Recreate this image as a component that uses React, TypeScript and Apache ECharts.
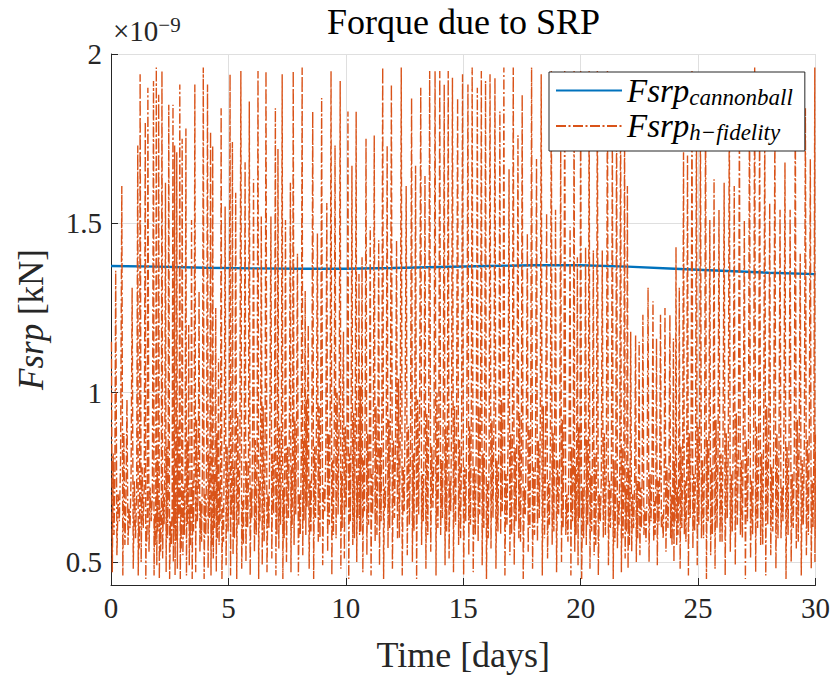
import React, { useEffect, useRef } from "react";
import * as echarts from "echarts";

// ---- x axis ticks / y axis ticks ----
const xTicks = [0, 5, 10, 15, 20, 25, 30];
const yTicks = [0.5, 1, 1.5, 2];

// ---- cannonball model (×1e-9 kN) ----
const blueDays = [0, 2, 4, 6, 8, 10, 12, 14, 16, 18, 20, 22, 24, 26, 28, 30];
const blueVals = [1.374, 1.372, 1.369, 1.367, 1.366, 1.366, 1.368, 1.371, 1.374, 1.376, 1.376, 1.372, 1.366, 1.36, 1.354, 1.35];

// ---- high-fidelity model: spike peaks (day, value) ----
const peakDaysA = [0.02, 0.2, 0.46, 0.68, 0.9, 1.14, 1.24, 1.46, 1.57, 1.81, 1.93, 2.03, 2.17, 2.32, 2.46, 2.64, 2.71, 2.8, 2.93, 3.03, 3.19, 3.31, 3.43, 3.57, 3.75, 3.93, 4.11, 4.24, 4.33, 4.46, 4.58, 4.69, 4.86, 5.07, 5.17, 5.31, 5.53, 5.71, 5.89, 6.07, 6.26, 6.4, 6.6, 6.81, 7.0, 7.11, 7.29, 7.43];
const peakValsA = [1.15, 1.36, 1.61, 0.98, 1.31, 1.73, 1.94, 1.8, 1.9, 1.92, 1.96, 1.88, 1.95, 1.62, 1.85, 1.85, 1.73, 1.71, 1.91, 1.75, 1.78, 1.2, 1.51, 1.91, 1.3, 1.96, 1.91, 1.77, 1.73, 1.25, 1.1, 1.84, 1.55, 1.94, 1.74, 1.59, 1.95, 1.68, 1.86, 1.63, 1.95, 1.52, 1.95, 1.52, 1.84, 1.72, 1.94, 1.51];
const peakDaysB = [7.64, 7.76, 7.94, 8.14, 8.27, 8.4, 8.59, 8.79, 8.97, 9.19, 9.37, 9.54, 9.76, 9.9, 10.09, 10.26, 10.44, 10.56, 10.69, 10.86, 11.04, 11.21, 11.4, 11.57, 11.76, 11.94, 12.16, 12.36, 12.57, 12.8, 12.97, 13.19, 13.37, 13.57, 13.8, 14.0, 14.19, 14.36, 14.54, 14.76, 14.97];
const peakValsB = [1.62, 1.95, 1.41, 1.96, 1.3, 1.2, 1.83, 1.47, 1.87, 1.56, 1.95, 1.73, 1.92, 1.18, 1.83, 1.67, 1.83, 1.35, 1.4, 1.75, 1.49, 1.76, 1.45, 1.96, 1.73, 1.91, 1.45, 1.96, 1.61, 1.87, 1.67, 1.9, 1.64, 1.95, 1.95, 1.95, 1.91, 1.95, 1.93, 1.87, 1.94];
const peakDaysC = [15.2, 15.38, 15.6, 15.77, 15.95, 16.14, 16.35, 16.56, 16.73, 16.95, 17.13, 17.33, 17.51, 17.73, 17.91, 18.12, 18.32, 18.55, 18.75, 18.93, 19.15, 19.32, 19.55, 19.72, 19.86, 20.0, 20.21, 20.36, 20.54, 20.71, 20.92, 21.14, 21.35, 21.53, 21.7, 21.87, 21.99, 22.13, 22.34];
const peakValsC = [1.91, 1.96, 1.9, 1.95, 1.92, 1.94, 1.93, 1.83, 1.96, 1.66, 1.96, 1.76, 1.88, 1.47, 1.96, 1.69, 1.94, 1.53, 1.95, 1.54, 1.72, 1.95, 1.49, 1.95, 1.4, 1.95, 1.43, 1.95, 1.42, 1.95, 1.42, 1.95, 1.8, 1.86, 1.88, 1.82, 1.61, 1.18, 1.17];
const peakDaysD = [22.49, 22.65, 22.87, 23.08, 23.23, 23.4, 23.59, 23.8, 23.95, 24.06, 24.2, 24.38, 24.55, 24.74, 24.93, 25.1, 25.32, 25.5, 25.68, 25.89, 26.11, 26.33, 26.54, 26.76, 26.97, 27.19, 27.41, 27.62, 27.84, 28.05, 28.27, 28.49, 28.7, 28.92, 29.14, 29.35, 29.57, 29.78, 29.97];
const peakValsD = [1.15, 1.23, 1.31, 1.27, 1.16, 1.23, 1.25, 1.23, 1.16, 1.43, 1.31, 1.71, 1.7, 1.95, 1.84, 1.8, 1.88, 1.51, 1.63, 1.54, 1.62, 1.86, 1.61, 1.82, 1.51, 1.9, 1.96, 1.85, 1.78, 1.56, 1.8, 1.54, 1.68, 1.54, 1.88, 1.41, 1.84, 1.69, 1.96];

// ---- high-fidelity model: deep troughs after each spike ----
const troughValsA = [0.47, 0.52, 0.46, 0.55, 0.48, 0.46, 0.5, 0.45, 0.53, 0.46, 0.49, 0.45, 0.51, 0.47, 0.45, 0.5, 0.46, 0.48, 0.45, 0.52, 0.46, 0.49, 0.45, 0.47, 0.53, 0.45, 0.48, 0.46, 0.51, 0.47, 0.55, 0.45, 0.49, 0.46, 0.52, 0.45, 0.48, 0.5, 0.46, 0.53, 0.45, 0.49, 0.47, 0.51, 0.46, 0.54, 0.45, 0.5];
const troughValsB = [0.47, 0.55, 0.46, 0.52, 0.58, 0.48, 0.45, 0.56, 0.49, 0.53, 0.46, 0.57, 0.48, 0.51, 0.45, 0.55, 0.5, 0.58, 0.47, 0.52, 0.46, 0.56, 0.49, 0.45, 0.54, 0.48, 0.57, 0.46, 0.52, 0.5, 0.45, 0.55, 0.48, 0.53, 0.46, 0.58, 0.49, 0.51, 0.47, 0.55, 0.46];
const troughValsC = [0.52, 0.47, 0.56, 0.49, 0.45, 0.54, 0.48, 0.58, 0.46, 0.52, 0.49, 0.57, 0.45, 0.53, 0.48, 0.56, 0.46, 0.51, 0.55, 0.47, 0.5, 0.58, 0.46, 0.53, 0.49, 0.45, 0.55, 0.48, 0.52, 0.46, 0.57, 0.49, 0.45, 0.54, 0.47, 0.51, 0.48, 0.53, 0.5];
const troughValsD = [0.52, 0.58, 0.5, 0.56, 0.49, 0.6, 0.53, 0.57, 0.5, 0.55, 0.48, 0.58, 0.46, 0.54, 0.49, 0.57, 0.45, 0.52, 0.48, 0.56, 0.46, 0.53, 0.49, 0.58, 0.45, 0.51, 0.47, 0.55, 0.46, 0.52, 0.48, 0.57, 0.45, 0.5, 0.54, 0.46, 0.52, 0.48, 0.5];

// ---- high-fidelity model: dense low band between spikes ----
const bandValsA = [0.82, 0.7, 0.88, 0.66, 0.74, 0.62, 0.78, 0.6, 0.72, 0.64, 0.8, 0.66, 0.7, 0.84, 0.62, 0.76, 0.68, 0.9, 0.64, 0.72, 0.86, 0.66, 0.74, 0.92, 0.68, 0.7, 0.82, 0.64, 0.76, 0.88, 0.72, 0.66, 0.84, 0.7, 0.78, 0.94, 0.68, 0.8, 0.72, 0.86, 0.74, 0.96, 0.7, 0.82, 0.76, 0.9, 0.72, 0.84];
const bandValsB = [0.78, 0.92, 0.7, 0.86, 0.98, 0.74, 0.84, 0.96, 0.72, 0.88, 0.8, 1.0, 0.76, 0.9, 0.82, 0.94, 0.74, 1.02, 0.8, 0.88, 0.76, 0.96, 0.84, 0.72, 0.92, 0.86, 1.04, 0.78, 0.9, 0.82, 0.98, 0.76, 0.94, 0.84, 1.0, 0.8, 0.9, 0.74, 0.96, 0.86, 0.78];
const bandValsC = [0.9, 0.78, 0.96, 0.82, 0.74, 0.92, 0.8, 0.98, 0.76, 0.88, 0.84, 0.94, 0.72, 0.9, 0.78, 0.86, 0.96, 0.74, 0.88, 0.8, 0.92, 0.7, 0.84, 0.78, 0.9, 0.72, 0.86, 0.76, 0.82, 0.7, 0.88, 0.74, 0.8, 0.68, 0.84, 0.72, 0.78, 0.7, 0.74];
const bandValsD = [0.72, 0.66, 0.76, 0.68, 0.74, 0.64, 0.78, 0.7, 0.8, 0.72, 0.84, 0.74, 0.88, 0.76, 0.9, 0.8, 0.86, 0.78, 0.92, 0.82, 0.88, 0.76, 0.94, 0.8, 0.86, 0.74, 0.9, 0.82, 0.96, 0.78, 0.88, 0.72, 0.84, 0.76, 0.92, 0.8, 0.86, 0.74, 0.82];

// ---- high-fidelity model: second (shallow) trough and band value in each cycle ----
const trough2ValsA = [0.58, 0.62, 0.55, 0.6, 0.57, 0.54, 0.6, 0.56, 0.62, 0.55, 0.59, 0.53, 0.61, 0.57, 0.55, 0.6, 0.56, 0.63, 0.54, 0.58, 0.61, 0.55, 0.59, 0.62, 0.56, 0.58, 0.63, 0.55, 0.6, 0.57, 0.62, 0.56, 0.59, 0.64, 0.57, 0.61, 0.55, 0.6, 0.63, 0.58, 0.62, 0.56, 0.6, 0.64, 0.58, 0.61, 0.57, 0.63];
const band2ValsA = [0.74, 0.8, 0.68, 0.76, 0.7, 0.66, 0.72, 0.64, 0.7, 0.68, 0.74, 0.62, 0.76, 0.7, 0.66, 0.72, 0.78, 0.68, 0.74, 0.8, 0.7, 0.76, 0.82, 0.72, 0.78, 0.84, 0.74, 0.8, 0.86, 0.76, 0.82, 0.88, 0.78, 0.84, 0.9, 0.8, 0.86, 0.76, 0.92, 0.82, 0.88, 0.78, 0.94, 0.84, 0.9, 0.8, 0.86, 0.92];
const trough2ValsB = [0.6, 0.64, 0.58, 0.62, 0.66, 0.59, 0.63, 0.57, 0.65, 0.61, 0.58, 0.64, 0.6, 0.66, 0.62, 0.57, 0.63, 0.59, 0.65, 0.61, 0.64, 0.58, 0.62, 0.66, 0.6, 0.63, 0.57, 0.65, 0.61, 0.59, 0.64, 0.62, 0.58, 0.66, 0.6, 0.63, 0.59, 0.65, 0.61, 0.57, 0.62];
const band2ValsB = [0.86, 0.94, 0.8, 0.9, 0.98, 0.84, 0.92, 1.0, 0.82, 0.96, 0.88, 0.94, 1.02, 0.86, 0.92, 0.98, 0.84, 0.9, 1.0, 0.88, 0.94, 0.82, 0.96, 0.9, 1.04, 0.86, 0.92, 0.98, 0.84, 0.94, 1.0, 0.88, 0.96, 0.82, 0.92, 0.98, 0.86, 0.94, 0.9, 0.84, 0.96];
const trough2ValsC = [0.61, 0.58, 0.64, 0.6, 0.57, 0.63, 0.59, 0.65, 0.61, 0.58, 0.62, 0.56, 0.64, 0.6, 0.58, 0.63, 0.57, 0.61, 0.59, 0.64, 0.6, 0.56, 0.62, 0.58, 0.63, 0.57, 0.61, 0.59, 0.55, 0.62, 0.58, 0.6, 0.56, 0.61, 0.57, 0.59, 0.55, 0.6, 0.57];
const band2ValsC = [0.94, 0.86, 0.9, 0.98, 0.82, 0.92, 0.88, 0.96, 0.84, 0.9, 0.94, 0.8, 0.88, 0.92, 0.84, 0.9, 0.78, 0.86, 0.92, 0.8, 0.88, 0.84, 0.76, 0.86, 0.8, 0.82, 0.76, 0.84, 0.78, 0.74, 0.8, 0.76, 0.72, 0.78, 0.74, 0.76, 0.7, 0.74, 0.72];
const trough2ValsD = [0.6, 0.56, 0.62, 0.58, 0.61, 0.57, 0.6, 0.55, 0.62, 0.58, 0.6, 0.56, 0.63, 0.59, 0.61, 0.57, 0.62, 0.58, 0.6, 0.56, 0.63, 0.59, 0.61, 0.57, 0.62, 0.58, 0.6, 0.55, 0.61, 0.59, 0.57, 0.62, 0.58, 0.6, 0.56, 0.61, 0.58, 0.6, 0.57];
const band2ValsD = [0.74, 0.7, 0.78, 0.72, 0.76, 0.7, 0.74, 0.68, 0.76, 0.72, 0.8, 0.76, 0.84, 0.8, 0.86, 0.82, 0.88, 0.84, 0.8, 0.9, 0.84, 0.88, 0.82, 0.92, 0.86, 0.9, 0.8, 0.94, 0.86, 0.9, 0.84, 0.92, 0.88, 0.82, 0.9, 0.86, 0.92, 0.84, 0.88];

const peakDays = [...peakDaysA, ...peakDaysB, ...peakDaysC, ...peakDaysD];
const peakVals = [...peakValsA, ...peakValsB, ...peakValsC, ...peakValsD];
const troughVals = [...troughValsA, ...troughValsB, ...troughValsC, ...troughValsD];
const bandVals = [...bandValsA, ...bandValsB, ...bandValsC, ...bandValsD];
const trough2Vals = [...trough2ValsA, ...trough2ValsB, ...trough2ValsC, ...trough2ValsD];
const band2Vals = [...band2ValsA, ...band2ValsB, ...band2ValsC, ...band2ValsD];

function buildOrange(): [number, number][] {
  const out: [number, number][] = [];
  for (let i = 0; i < peakDays.length; i++) {
    const t = peakDays[i];
    out.push([t, peakVals[i]]);
    const next = i + 1 < peakDays.length ? peakDays[i + 1] : 30;
    const g = next - t;
    out.push([t + 0.2 * g, troughVals[i]]);
    out.push([t + 0.4 * g, bandVals[i]]);
    out.push([t + 0.6 * g, trough2Vals[i]]);
    out.push([t + 0.8 * g, band2Vals[i]]);
  }
  return out;
}

const FONT = "'Liberation Serif', 'DejaVu Serif', serif";
const AX = "#262626";
const GRID = "#dfdfdf";

export default function App() {
  const ref = useRef<HTMLDivElement>(null);
  useEffect(() => {
    if (!ref.current) return;
    const chart = echarts.init(ref.current, undefined, { renderer: "svg" });
    const blueData = blueDays.map((d, i) => [d, blueVals[i]]);
    chart.setOption({
      animation: false,
      backgroundColor: "#ffffff",
      textStyle: { fontFamily: FONT },
      title: {
        text: "Forque due to SRP",
        left: 463.5,
        top: 4,
        padding: 0,
        textAlign: "center",
        textStyle: { fontFamily: FONT, fontSize: 36, fontWeight: "normal", color: "#000" },
      },
      grid: { left: 111, right: 17, top: 54, bottom: 94, containLabel: false },
      legend: {
        orient: "vertical",
        left: 549,
        top: 72,
        backgroundColor: "#ffffff",
        borderColor: AX,
        borderWidth: 1,
        borderRadius: 0,
        padding: [2, 12, 7, 6],
        itemGap: 1,
        itemWidth: 66,
        itemHeight: 14,
        itemStyle: { opacity: 0 },
        data: ["Fsrp_cannonball", "Fsrp_h-fidelity"],
        formatter: (name: string) =>
          name === "Fsrp_cannonball" ? "{it|Fsrp}{sub|cannonball}" : "{it|Fsrp}{sub|h−fidelity}",
        textStyle: {
          fontFamily: FONT,
          color: "#000",
          rich: {
            it: { fontFamily: FONT, fontStyle: "italic", fontSize: 33, lineHeight: 36, color: "#000" },
            sub: { fontFamily: FONT, fontStyle: "italic", fontSize: 23, lineHeight: 20, verticalAlign: "bottom", color: "#000" },
          },
        },
      },
      xAxis: {
        type: "value",
        min: 0,
        max: 30,
        interval: 5,
        name: "Time [days]",
        nameLocation: "middle",
        nameGap: 52,
        nameTextStyle: { fontFamily: FONT, fontSize: 36, color: AX },
        axisLine: { show: true, lineStyle: { color: AX, width: 1 } },
        axisTick: { show: true, inside: true, length: 7, lineStyle: { color: AX } },
        axisLabel: {
          fontFamily: FONT,
          fontSize: 29,
          color: AX,
          margin: 8,
          customValues: xTicks,
        },
        splitLine: { show: true, lineStyle: { color: GRID, width: 1 } },
      },
      yAxis: {
        type: "value",
        min: 0.432,
        max: 2,
        name: "{it|Fsrp} [kN]",
        nameLocation: "middle",
        nameGap: 62,
        nameRotate: 90,
        nameTextStyle: {
          fontFamily: FONT,
          fontSize: 35,
          color: AX,
          rich: { it: { fontFamily: FONT, fontStyle: "italic", fontSize: 35, color: AX } },
        },
        axisLine: { show: true, lineStyle: { color: AX, width: 1 } },
        axisTick: { show: true, inside: true, length: 7, lineStyle: { color: AX }, customValues: yTicks },
        axisLabel: {
          fontFamily: FONT,
          fontSize: 29,
          color: AX,
          margin: 9,
          customValues: yTicks,
        },
        splitLine: { show: true, lineStyle: { color: GRID, width: 1 } },
      },
      graphic: [
        {
          type: "text",
          left: 113,
          top: 14,
          silent: true,
          style: {
            text: "{a|×10}{b|−9}",
            fill: AX,
            fontFamily: FONT,
            rich: {
              a: { fontFamily: FONT, fontSize: 29, lineHeight: 34, fill: AX },
              b: { fontFamily: FONT, fontSize: 21, lineHeight: 22, verticalAlign: "top", fill: AX },
            },
          },
        },
      ],
      series: [
        {
          type: "line",
          name: "Fsrp_cannonball",
          data: blueData,
          symbol: "none",
          showSymbol: false,
          lineStyle: { color: "#0072BD", width: 2.4 },
          itemStyle: { color: "#0072BD" },
          silent: true,
        },
        {
          type: "line",
          name: "Fsrp_h-fidelity",
          data: buildOrange(),
          symbol: "none",
          showSymbol: false,
          lineStyle: { color: "#D95319", width: 1.4, type: [10, 2.5, 2, 2.5] },
          itemStyle: { color: "#D95319" },
          silent: true,
        },
      ],
    });
    return () => chart.dispose();
  }, []);
  return (
    <div
      ref={ref}
      style={{ position: "fixed", left: 0, top: 0, width: 833, height: 679 }}
    />
  );
}
